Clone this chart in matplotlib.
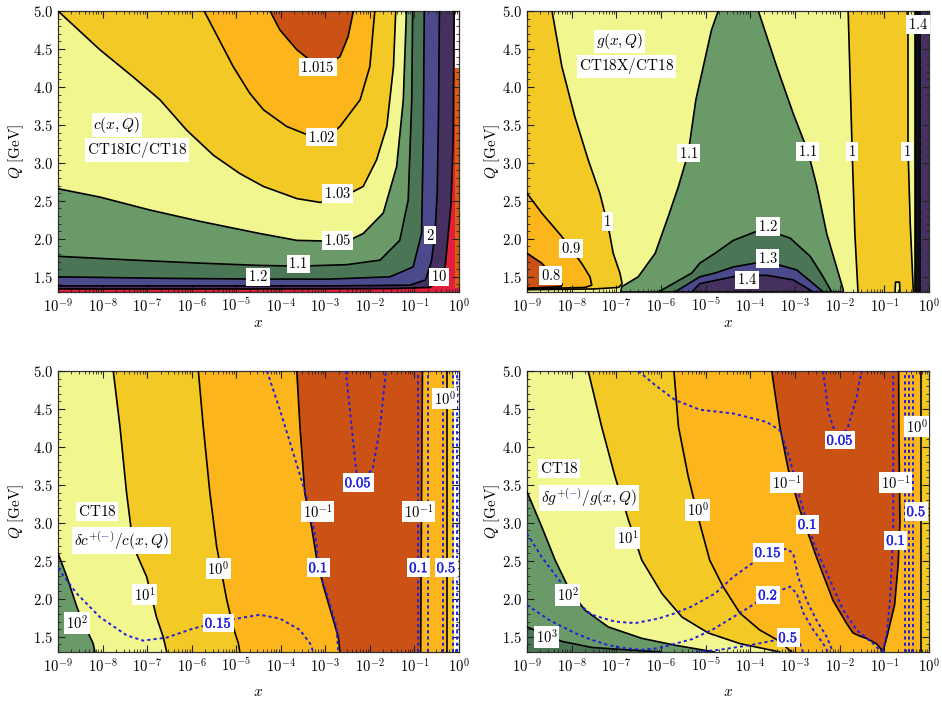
import numpy as np
import matplotlib
matplotlib.use("Agg")
import matplotlib.pyplot as plt
import matplotlib.patheffects as pe
from matplotlib.patches import Rectangle
from matplotlib.transforms import Bbox, IdentityTransform
from matplotlib.ticker import FixedLocator, FuncFormatter, MultipleLocator, NullFormatter

plt.rcParams["mathtext.fontset"] = "cm"
plt.rcParams["font.family"] = "serif"
plt.rcParams["font.serif"] = ["DejaVu Serif"]

# ---------------------------------------------------------------------------
# colours of the bands
# ---------------------------------------------------------------------------
PALE = "#f2f68f"
GOLD = "#f3c926"
ORANGE = "#fcb51a"
RUST = "#cc5114"
GREEN = "#6a9a68"
DKGREEN = "#4b7656"
BLUE = "#4a4a8c"
PURPLE = "#46305f"
RED = "#e31e3c"
DOT = "#2020dc"

LX0, LX1 = -9.0, 0.0      # log10 x range
Q0, Q1 = 1.3, 5.0         # Q range [GeV]

# ---------------------------------------------------------------------------
# contour curves: log10(x) and Q [GeV]
# ---------------------------------------------------------------------------
# top left: c(x,Q) CT18IC/CT18
TL_C1015_LX = [-4.24, -4.02, -3.64, -3.34, -3.16, -2.95, -2.67, -2.49, -2.37]
TL_C1015_Q = [5.0, 4.75, 4.49, 4.35, 4.29, 4.30, 4.40, 4.66, 5.0]
TL_C102_LX = [-5.72, -5.07, -4.70, -4.39, -3.87, -3.40, -3.16, -2.90, -2.67, -2.22, -2.00, -1.89]
TL_C102_Q = [5.0, 4.27, 3.92, 3.70, 3.48, 3.37, 3.34, 3.37, 3.48, 3.83, 4.27, 5.0]
TL_C103_LX = [-9.0, -8.06, -7.31, -6.71, -6.11, -5.51, -4.92, -4.39, -3.64, -3.12, -2.71,
              -2.15, -1.85, -1.62, -1.47, -1.42]
TL_C103_Q = [5.0, 4.49, 4.13, 3.83, 3.43, 3.10, 2.86, 2.69, 2.53, 2.48, 2.52,
             2.69, 3.04, 3.48, 4.27, 5.0]
TL_C105_LX = [-9.0, -8.06, -6.94, -5.81, -4.47, -3.64, -2.90, -2.40, -2.15, -1.70, -1.40, -1.25, -1.18]
TL_C105_Q = [2.66, 2.55, 2.38, 2.23, 2.07, 1.98, 1.97, 2.00, 2.07, 2.34, 2.95, 3.83, 5.0]
TL_C11_LX = [-9.0, -7.31, -5.81, -4.47, -3.60, -2.52, -1.77, -1.33, -1.14, -1.06, -1.04]
TL_C11_Q = [1.77, 1.72, 1.68, 1.65, 1.64, 1.66, 1.72, 1.98, 2.51, 3.83, 5.0]
TL_C12_LX = [-9.0, -6.56, -4.47, -2.90, -1.55, -1.03, -0.84, -0.80, -0.78]
TL_C12_Q = [1.50, 1.48, 1.47, 1.47, 1.50, 1.63, 2.07, 3.39, 5.0]
TL_C2_LX = [-9.0, -2.9, -1.1, -0.75, -0.62, -0.54, -0.49, -0.46, -0.44]
TL_C2_Q = [1.38, 1.38, 1.39, 1.46, 1.70, 2.05, 2.60, 3.60, 5.0]
TL_C10_LX = [-9.0, -4.0, -1.5, -0.65, -0.45, -0.32, -0.18, -0.13, -0.11]
TL_C10_Q = [1.34, 1.34, 1.345, 1.36, 1.45, 1.57, 2.45, 3.32, 5.0]
TL_EDGE_LX = [-0.085, 0.0]
TL_EDGE_Q = [1.35, 4.25, 5.0]

# top right: g(x,Q) CT18X/CT18
TR_C1A_LX = [-8.44, -8.22, -7.93, -7.63, -7.37, -7.18, -7.07, -6.92, -6.87, -6.95, -7.50, -9.0]
TR_C1A_Q = [5.0, 4.27, 3.61, 3.04, 2.60, 2.16, 1.81, 1.55, 1.41, 1.36, 1.34, 1.33]
TR_C09_LX = [-9.0, -8.67, -8.22, -8.02, -7.78, -7.59, -7.55, -7.70, -9.0]
TR_C09_Q = [2.60, 2.34, 2.03, 1.87, 1.68, 1.50, 1.39, 1.36, 1.34]
TR_C08_LX = [-9.0, -8.67, -8.47, -8.30, -8.21, -8.24, -9.0]
TR_C08_Q = [1.81, 1.68, 1.55, 1.48, 1.40, 1.37, 1.35]
TR_C11_LX = [-4.72, -4.87, -5.22, -5.39, -5.61, -5.84, -6.13, -6.51, -6.88, -6.90,
             -1.92, -1.92, -2.07, -2.29, -2.51, -2.71, -3.04, -3.41, -3.82]
TR_C11_Q = [5.0, 4.75, 3.83, 3.13, 2.69, 2.29, 1.81, 1.50, 1.37, 1.30,
            1.30, 1.33, 1.63, 2.07, 2.69, 3.15, 3.65, 4.27, 5.0]
TR_C12_LX = [-6.06, -5.31, -5.13, -4.79, -4.38, -3.90, -3.56, -3.11, -2.66, -2.37, -2.18]
TR_C12_Q = [1.30, 1.55, 1.68, 1.81, 1.98, 2.09, 2.10, 2.01, 1.77, 1.50, 1.30]
TR_C13_LX = [-5.69, -5.13, -4.79, -4.38, -3.90, -3.56, -2.96, -2.59, -2.37]
TR_C13_Q = [1.30, 1.50, 1.55, 1.63, 1.68, 1.69, 1.59, 1.41, 1.30]
TR_C14_LX = [-5.31, -5.13, -4.31, -3.64, -3.04, -2.59]
TR_C14_Q = [1.30, 1.41, 1.51, 1.52, 1.46, 1.30]
TR_C1B_LX = [-1.81, -1.72, -1.66, -1.59]
TR_C1B_Q = [5.0, 3.15, 2.07, 1.30]
TR_C1C_LX = [-0.47, -0.47, -0.42, -0.35]
TR_C1C_Q = [5.0, 3.20, 2.20, 1.30]
TR_EDGE_LX = [-0.31, -0.28, -0.245, -0.21]
TR_NOTCH_LX = [-0.76, -0.75, -0.66, -0.65]
TR_NOTCH_Q = [1.30, 1.43, 1.43, 1.30]

# bottom left: delta c / c, CT18
BL_C2_LX = [-9.0, -8.80, -8.58, -8.45, -8.32, -8.21, -8.17]
BL_C2_Q = [2.60, 2.29, 1.90, 1.70, 1.55, 1.41, 1.30]
BL_C1_LX = [-7.76, -7.61, -7.46, -7.31, -7.01, -6.79, -6.64, -6.56]
BL_C1_Q = [5.0, 4.27, 3.39, 2.69, 2.29, 1.76, 1.50, 1.30]
BL_C0_LX = [-5.85, -5.74, -5.59, -5.44, -5.21, -5.07, -4.95, -4.92]
BL_C0_Q = [5.0, 4.27, 3.39, 2.69, 1.98, 1.63, 1.41, 1.30]
BL_CM1_LX = [-3.64, -3.57, -3.46, -3.31, -3.19, -3.04, -2.82, -2.71, -2.67]
BL_CM1_Q = [5.0, 4.27, 3.39, 2.95, 2.51, 2.16, 1.72, 1.50, 1.30]
BL_CM1R_LX = [-0.82, -0.84, -0.86]
BL_CM1R_Q = [5.0, 3.39, 1.30]
BL_C0R_LX = [-0.27, -0.27]
BL_EDGE_LX = -0.12
BL_D015_LX = [-9.0, -8.58, -8.06, -7.46, -7.09, -6.56, -5.96, -5.40, -4.99, -4.47, -4.02,
              -3.57, -3.34, -3.27]
BL_D015_Q = [2.40, 2.07, 1.76, 1.52, 1.45, 1.49, 1.61, 1.69, 1.74, 1.79, 1.74,
             1.59, 1.41, 1.30]
BL_D01_LX = [-4.31, -4.02, -3.72, -3.49, -3.34, -3.19, -3.16, -2.97, -2.75, -2.71]
BL_D01_Q = [5.0, 4.49, 3.92, 3.48, 3.17, 2.69, 2.41, 2.07, 1.63, 1.30]
BL_D005_LX = [-2.54, -2.41, -2.31, -2.26, -1.94, -1.77, -1.64]
BL_D005_Q = [5.0, 4.27, 3.70, 3.55, 3.70, 4.27, 5.0]
BL_DV_LX = [-0.91, -0.69, -0.37, -0.13, -0.05]

# bottom right: delta g / g, CT18
BR_C3_LX = [-9.0, -8.67, -8.22, -7.55, -6.81, -6.0]
BR_C3_Q = [1.63, 1.55, 1.44, 1.36, 1.33, 1.30]
BR_C2_LX = [-9.0, -8.67, -8.37, -8.05, -7.70, -7.18, -6.43, -5.69, -4.8]
BR_C2_Q = [3.41, 2.95, 2.51, 2.12, 1.85, 1.63, 1.48, 1.39, 1.30]
BR_C1_LX = [-7.63, -7.33, -7.03, -6.73, -6.43, -5.98, -5.53, -4.94, -4.23, -3.34]
BR_C1_Q = [5.0, 4.27, 3.61, 3.04, 2.51, 2.07, 1.76, 1.55, 1.41, 1.30]
BR_C0_LX = [-5.71, -5.61, -5.39, -5.13, -4.91, -4.61, -4.23, -3.79, -3.34, -3.08]
BR_C0_Q = [5.0, 4.27, 3.61, 2.99, 2.51, 2.16, 1.81, 1.59, 1.44, 1.30]
BR_CM1_LX = [-3.52, -3.34, -3.15, -2.89, -2.52, -2.15, -1.85, -1.70, -1.55, -1.40, -1.18,
             -1.03, -0.95, -0.77, -0.69, -0.65, -0.67, -0.68]
BR_CM1_Q = [5.0, 4.27, 3.70, 3.17, 2.55, 1.98, 1.68, 1.55, 1.51, 1.48, 1.41,
            1.31, 1.48, 1.92, 2.45, 3.02, 4.0, 5.0]
BR_C0R_LX = [-0.19, -0.19]
BR_D01_LX = [-6.51, -6.10, -5.69, -5.13, -4.38, -3.64, -3.34, -3.12, -2.90, -2.72, -2.55,
             -2.22, -1.92, -1.62, -1.25, -1.06]
BR_D01_Q = [5.0, 4.80, 4.62, 4.49, 4.44, 4.33, 4.22, 3.85, 3.35, 2.98, 2.69,
            2.25, 1.85, 1.59, 1.41, 1.30]
BR_D01R_LX = [-1.03, -0.94, -0.87, -0.80, -0.80]
BR_D01R_Q = [1.30, 1.57, 2.00, 2.88, 5.0]
BR_D005_LX = [-2.37, -2.26, -2.15, -1.99, -1.81, -1.62, -1.51]
BR_D005_Q = [5.0, 4.49, 4.27, 4.09, 4.27, 4.66, 5.0]
BR_D015_LX = [-9.0, -8.67, -8.22, -7.93, -7.55, -7.03, -6.58, -6.06, -5.69, -5.31, -4.79,
              -4.38, -4.0, -3.60, -3.19, -3.04, -2.93, -2.74, -2.52, -2.29, -2.15]
BR_D015_Q = [2.86, 2.55, 2.20, 1.98, 1.79, 1.70, 1.68, 1.74, 1.81, 1.90, 2.07,
             2.29, 2.45, 2.60, 2.66, 2.60, 2.29, 1.98, 1.72, 1.50, 1.30]
BR_D02_LX = [-9.0, -8.5, -7.93, -7.55, -7.18, -6.80, -6.43, -6.06, -5.30, -4.83, -4.38,
             -4.0, -3.60, -3.11, -2.96, -2.81, -2.59, -2.37, -2.26]
BR_D02_Q = [1.92, 1.72, 1.55, 1.46, 1.39, 1.35, 1.33, 1.35, 1.47, 1.60, 1.76,
            1.90, 2.05, 2.16, 2.07, 1.81, 1.59, 1.41, 1.30]
BR_D05_LX = [-5.2, -4.68, -4.0, -3.15, -2.89, -2.82]
BR_D05_Q = [1.30, 1.33, 1.39, 1.49, 1.41, 1.30]
BR_DV_LX = [-0.53, -0.45, -0.36]


# ---------------------------------------------------------------------------
# helpers
# ---------------------------------------------------------------------------
def X(lx):
    return 10.0 ** np.asarray(lx, dtype=float)


def fill(ax, lx, q, color):
    ax.fill(X(lx), q, color=color, lw=0, zorder=1)


def curve(ax, lx, q):
    ax.plot(X(lx), q, color="k", lw=1.2, zorder=3, solid_joinstyle="round")


def dotted(ax, lx, q):
    ax.plot(X(lx), q, color=DOT, lw=1.4, ls=(0, (1.6, 1.6)), zorder=4)


def label(ax, lx, q, s, color="k", size=10.5, **kw):
    return ax.text(10.0 ** lx, q, s, ha="center", va="center", color=color, fontsize=size,
                   zorder=6, bbox=dict(boxstyle="square,pad=0.12", fc="white", ec="none"), **kw)


def blue_label(ax, lx, q, s):
    label(ax, lx, q, r"$\mathbf{%s}$" % s, color=DOT,
          path_effects=[pe.withStroke(linewidth=0.3, foreground=DOT)])


MINUS_JOBS = []


def minus_label(ax, lx, q, full, upto_paren, upto_minus, size=11):
    # full label in black, the superscript minus re-drawn in blue afterwards
    kw = dict(ha="left", va="baseline", fontsize=size)
    t_full = ax.text(10.0 ** lx, q, full, color="k", zorder=6,
                     bbox=dict(boxstyle="square,pad=0.15", fc="white", ec="none"), **kw)
    t_a = ax.text(10.0 ** lx, q, upto_paren, alpha=0, **kw)
    t_b = ax.text(10.0 ** lx, q, upto_minus, alpha=0, **kw)
    t_blue = ax.text(10.0 ** lx, q, full, color=DOT, zorder=8, clip_on=True, **kw)
    MINUS_JOBS.append((ax, t_full, t_a, t_b, t_blue))


def dress(ax, ylab_x):
    ax.set_xscale("log")
    ax.set_xlim(10.0 ** LX0, 10.0 ** LX1)
    ax.set_ylim(Q0, Q1)
    ax.set_axisbelow(False)
    ax.xaxis.set_major_locator(FixedLocator(X(np.arange(-9, 1))))
    ax.xaxis.set_major_formatter(FuncFormatter(lambda v, _: r"$10^{%d}$" % round(np.log10(v))))
    ax.xaxis.set_minor_locator(FixedLocator([k * 10.0 ** n for n in range(-9, 0) for k in range(2, 10)]))
    ax.xaxis.set_minor_formatter(NullFormatter())
    ax.yaxis.set_major_locator(FixedLocator([1.5, 2.0, 2.5, 3.0, 3.5, 4.0, 4.5, 5.0]))
    ax.yaxis.set_major_formatter(FuncFormatter(lambda v, _: r"$%.1f$" % v))
    ax.yaxis.set_minor_locator(MultipleLocator(0.1))
    ax.tick_params(which="both", direction="in", top=True, right=True, labelsize=10.5,
                   color="#222222")
    ax.tick_params(which="major", length=5, width=0.8)
    ax.tick_params(which="minor", length=2.5, width=0.6)
    for sp in ax.spines.values():
        sp.set_linewidth(0.9)
        sp.set_color("#333333")
    ax.set_ylabel(r"$Q\ [\mathrm{GeV}]$", fontsize=11)
    ax.yaxis.set_label_coords(ylab_x, 0.5)


fig = plt.figure(figsize=(9.42, 7.02), dpi=100)
ax_tl = fig.add_axes([58 / 942, 1 - 292 / 702, 401 / 942, 281 / 702])
ax_tr = fig.add_axes([527 / 942, 1 - 292 / 702, 402 / 942, 281 / 702])
ax_bl = fig.add_axes([58 / 942, 1 - 652 / 702, 401 / 942, 281 / 702])
ax_br = fig.add_axes([527 / 942, 1 - 652 / 702, 402 / 942, 281 / 702])

# ---------------------------------------------------------------------------
# top left
# ---------------------------------------------------------------------------
ax = ax_tl
ax.set_facecolor(RED)
fill(ax, TL_C10_LX + [LX0], TL_C10_Q + [Q1], PURPLE)
fill(ax, TL_C2_LX + [LX0], TL_C2_Q + [Q1], BLUE)
fill(ax, TL_C12_LX + [LX0], TL_C12_Q + [Q1], DKGREEN)
fill(ax, TL_C11_LX + [LX0], TL_C11_Q + [Q1], GREEN)
fill(ax, TL_C105_LX + [LX0], TL_C105_Q + [Q1], PALE)
fill(ax, TL_C103_LX, TL_C103_Q, GOLD)
fill(ax, TL_C102_LX, TL_C102_Q, ORANGE)
fill(ax, TL_C1015_LX, TL_C1015_Q, RUST)
fill(ax, [TL_EDGE_LX[0], TL_EDGE_LX[1], TL_EDGE_LX[1], TL_EDGE_LX[0]],
     [TL_EDGE_Q[0], TL_EDGE_Q[0], TL_EDGE_Q[1], TL_EDGE_Q[1]], "#d8600f")
fill(ax, [TL_EDGE_LX[0], TL_EDGE_LX[1], TL_EDGE_LX[1], TL_EDGE_LX[0]],
     [TL_EDGE_Q[1], TL_EDGE_Q[1], TL_EDGE_Q[2], TL_EDGE_Q[2]], "white")
for lx, q in [(TL_C10_LX, TL_C10_Q), (TL_C2_LX, TL_C2_Q), (TL_C12_LX, TL_C12_Q),
              (TL_C11_LX, TL_C11_Q), (TL_C105_LX, TL_C105_Q), (TL_C103_LX, TL_C103_Q),
              (TL_C102_LX, TL_C102_Q), (TL_C1015_LX, TL_C1015_Q)]:
    curve(ax, lx, q)
label(ax, -3.17, 4.26, r"$1.015$")
label(ax, -3.08, 3.34, r"$1.02$")
label(ax, -2.72, 2.60, r"$1.03$")
label(ax, -2.72, 1.98, r"$1.05$")
label(ax, -3.61, 1.67, r"$1.1$")
label(ax, -4.51, 1.50, r"$1.2$")
label(ax, -0.65, 2.05, r"$2$")
label(ax, -0.45, 1.50, r"$10$")
label(ax, -7.68, 3.50, r"$c(x,Q)$", size=11)
label(ax, -7.23, 3.17, r"$\mathrm{CT18IC/CT18}$", size=11)
dress(ax, -0.0795)

# ---------------------------------------------------------------------------
# top right
# ---------------------------------------------------------------------------
ax = ax_tr
ax.set_facecolor(PALE)
fill(ax, TR_C1A_LX + [LX0], TR_C1A_Q + [Q1], GOLD)
fill(ax, TR_C09_LX, TR_C09_Q, ORANGE)
fill(ax, TR_C08_LX, TR_C08_Q, RUST)
fill(ax, TR_C11_LX, TR_C11_Q, GREEN)
fill(ax, TR_C12_LX, TR_C12_Q, DKGREEN)
fill(ax, TR_C13_LX, TR_C13_Q, BLUE)
fill(ax, TR_C14_LX, TR_C14_Q, PURPLE)
fill(ax, TR_C1B_LX + TR_C1C_LX[::-1], TR_C1B_Q + TR_C1C_Q[::-1], GOLD)
fill(ax, TR_NOTCH_LX, TR_NOTCH_Q, PALE)
band_cols = [GREEN, DKGREEN, BLUE, PURPLE]
for i, lx in enumerate(TR_EDGE_LX):
    nxt = TR_EDGE_LX[i + 1] if i + 1 < len(TR_EDGE_LX) else LX1
    fill(ax, [lx, nxt, nxt, lx], [Q0, Q0, Q1, Q1], band_cols[i])
for lx, q in [(TR_C1A_LX, TR_C1A_Q), (TR_C09_LX, TR_C09_Q), (TR_C08_LX, TR_C08_Q),
              (TR_C11_LX, TR_C11_Q), (TR_C12_LX, TR_C12_Q), (TR_C13_LX, TR_C13_Q),
              (TR_C14_LX, TR_C14_Q), (TR_C1B_LX, TR_C1B_Q), (TR_C1C_LX, TR_C1C_Q),
              (TR_NOTCH_LX, TR_NOTCH_Q)]:
    curve(ax, lx, q)
for lx in TR_EDGE_LX:
    curve(ax, [lx, lx], [Q0, Q1])
label(ax, -8.47, 1.52, r"$0.8$")
label(ax, -8.02, 1.87, r"$0.9$")
label(ax, -7.20, 2.23, r"$1$")
label(ax, -5.39, 3.13, r"$1.1$")
label(ax, -2.71, 3.15, r"$1.1$")
label(ax, -1.72, 3.15, r"$1$")
label(ax, -0.49, 3.15, r"$1$")
label(ax, -3.60, 2.16, r"$1.2$")
label(ax, -3.61, 1.74, r"$1.3$")
label(ax, -4.07, 1.46, r"$1.4$")
label(ax, -0.245, 4.82, r"$1.4$")
label(ax, -6.92, 4.60, r"$g(x,Q)$", size=11)
label(ax, -6.77, 4.27, r"$\mathrm{CT18X/CT18}$", size=11)
dress(ax, -0.063)

# ---------------------------------------------------------------------------
# bottom left
# ---------------------------------------------------------------------------
ax = ax_bl
ax.set_facecolor(ORANGE)
fill(ax, BL_C0_LX + [LX0, LX0], BL_C0_Q + [Q0, Q1], GOLD)
fill(ax, BL_C1_LX + [LX0, LX0], BL_C1_Q + [Q0, Q1], PALE)
fill(ax, BL_C2_LX + [LX0], BL_C2_Q + [Q0], GREEN)
fill(ax, BL_CM1_LX + BL_CM1R_LX[::-1], BL_CM1_Q + BL_CM1R_Q[::-1], RUST)
fill(ax, [BL_C0R_LX[0], BL_EDGE_LX, BL_EDGE_LX, BL_C0R_LX[0]], [Q0, Q0, Q1, Q1], GOLD)
fill(ax, [BL_EDGE_LX, LX1, LX1, BL_EDGE_LX], [Q0, Q0, Q1, Q1], "white")
for lx, q in [(BL_C2_LX, BL_C2_Q), (BL_C1_LX, BL_C1_Q), (BL_C0_LX, BL_C0_Q),
              (BL_CM1_LX, BL_CM1_Q), (BL_CM1R_LX, BL_CM1R_Q), (BL_C0R_LX, [Q0, Q1])]:
    curve(ax, lx, q)
for lx, q in [(BL_D015_LX, BL_D015_Q), (BL_D01_LX, BL_D01_Q), (BL_D005_LX, BL_D005_Q)]:
    dotted(ax, lx, q)
for lx in BL_DV_LX:
    dotted(ax, [lx, lx], [Q0, Q1])
label(ax, -8.57, 1.68, r"$10^{2}$")
label(ax, -7.06, 2.06, r"$10^{1}$")
label(ax, -5.40, 2.40, r"$10^{0}$")
label(ax, -3.18, 3.15, r"$10^{-1}$")
label(ax, -0.91, 3.15, r"$10^{-1}$")
label(ax, -0.32, 4.64, r"$10^{0}$")
blue_label(ax, -5.40, 1.68, "0.15")
blue_label(ax, -3.16, 2.41, "0.1")
blue_label(ax, -2.26, 3.53, "0.05")
blue_label(ax, -0.90, 2.41, "0.1")
blue_label(ax, -0.28, 2.41, "0.5")
label(ax, -8.12, 3.15, r"$\mathrm{CT18}$", size=11)
minus_label(ax, -8.64, 2.70, r"$\delta c^{+(-)}/c(x,Q)$", r"$\delta c^{+(}$", r"$\delta c^{+(-}$")
dress(ax, -0.0795)

# ---------------------------------------------------------------------------
# bottom right
# ---------------------------------------------------------------------------
ax = ax_br
ax.set_facecolor(ORANGE)
fill(ax, BR_C0_LX + [LX0, LX0], BR_C0_Q + [Q0, Q1], GOLD)
fill(ax, BR_C1_LX + [LX0, LX0], BR_C1_Q + [Q0, Q1], PALE)
fill(ax, BR_C2_LX + [LX0], BR_C2_Q + [Q0], GREEN)
fill(ax, BR_C3_LX + [LX0], BR_C3_Q + [Q0], DKGREEN)
fill(ax, BR_CM1_LX, BR_CM1_Q, RUST)
fill(ax, [BR_C0R_LX[0], LX1, LX1, BR_C0R_LX[0]], [Q0, Q0, Q1, Q1], GOLD)
for lx, q in [(BR_C3_LX, BR_C3_Q), (BR_C2_LX, BR_C2_Q), (BR_C1_LX, BR_C1_Q),
              (BR_C0_LX, BR_C0_Q), (BR_CM1_LX, BR_CM1_Q), (BR_C0R_LX, [Q0, Q1])]:
    curve(ax, lx, q)
for lx, q in [(BR_D01_LX, BR_D01_Q), (BR_D01R_LX, BR_D01R_Q), (BR_D005_LX, BR_D005_Q),
              (BR_D015_LX, BR_D015_Q), (BR_D02_LX, BR_D02_Q), (BR_D05_LX, BR_D05_Q)]:
    dotted(ax, lx, q)
for lx in BR_DV_LX:
    dotted(ax, [lx, lx], [Q0, Q1])
label(ax, -8.56, 1.50, r"$10^{3}$")
label(ax, -8.09, 2.05, r"$10^{2}$")
label(ax, -6.75, 2.80, r"$10^{1}$")
label(ax, -5.18, 3.17, r"$10^{0}$")
label(ax, -3.18, 3.53, r"$10^{-1}$")
label(ax, -0.75, 3.53, r"$10^{-1}$")
label(ax, -0.28, 4.27, r"$10^{0}$")
blue_label(ax, -1.99, 4.09, "0.05")
blue_label(ax, -2.72, 2.98, "0.1")
blue_label(ax, -0.74, 2.77, "0.1")
blue_label(ax, -3.60, 2.61, "0.15")
blue_label(ax, -3.60, 2.05, "0.2")
blue_label(ax, -3.15, 1.49, "0.5")
blue_label(ax, -0.28, 3.15, "0.5")
label(ax, -8.28, 3.72, r"$\mathrm{CT18}$", size=11)
minus_label(ax, -8.69, 3.26, r"$\delta g^{+(-)}/g(x,Q)$", r"$\delta g^{+(}$", r"$\delta g^{+(-}$")
dress(ax, -0.063)

for ax in (ax_tl, ax_tr):
    ax.set_xlabel(r"$x$", fontsize=11)
    ax.xaxis.set_label_coords(0.5, -0.085)
for ax in (ax_bl, ax_br):
    ax.set_xlabel(r"$x$", fontsize=11)
    ax.xaxis.set_label_coords(0.5, -0.118)

# blue superscript minus: blank the black one and show the blue text only there
fig.canvas.draw()
renderer = fig.canvas.get_renderer()
for ax, t_full, t_a, t_b, t_blue in MINUS_JOBS:
    ef = t_full.get_window_extent(renderer)
    x0 = t_a.get_window_extent(renderer).x1 + 0.3
    x1 = t_b.get_window_extent(renderer).x1 - 0.3
    ax.add_patch(Rectangle((x0, ef.y0), x1 - x0, ef.height, transform=IdentityTransform(),
                           fc="white", ec="none", zorder=7))
    t_blue.set_clip_box(Bbox.from_extents(x0, ef.y0, x1, ef.y1))

fig.savefig("out.png", dpi=100)
